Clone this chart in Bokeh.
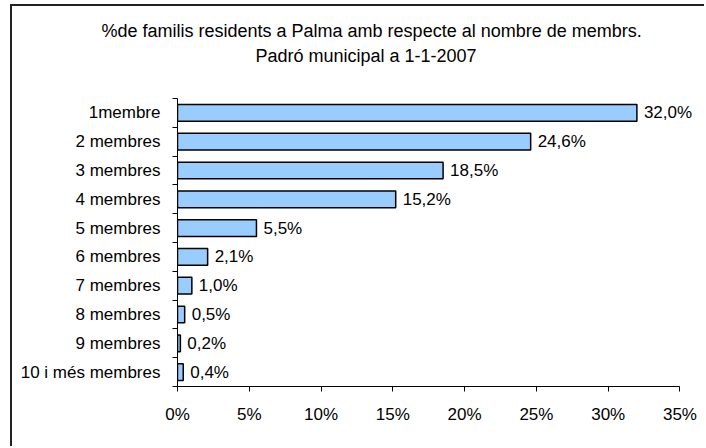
from bokeh.plotting import figure
from bokeh.models import (ColumnDataSource, Range1d, LinearAxis,
                          FixedTicker, LabelSet, Title)
from bokeh.core.properties import value
from bokeh.embed import file_html
from bokeh.resources import INLINE

title_lines = ["%de familis residents a Palma amb respecte al nombre de membrs.",
               "Padró municipal a 1-1-2007"]
categories = ["1membre", "2 membres", "3 membres", "4 membres", "5 membres",
              "6 membres", "7 membres", "8 membres", "9 membres", "10 i més membres"]
values = [32.0, 24.6, 18.5, 15.2, 5.5, 2.1, 1.0, 0.5, 0.2, 0.4]
x_ticks = [0, 5, 10, 15, 20, 25, 30, 35]
x_tick_labels = ["0%", "5%", "10%", "15%", "20%", "25%", "30%", "35%"]

FONT = "Liberation Sans"
FS = "17px"
TFS = "18px"

n = len(categories)
ypos = [n - i - 0.5 for i in range(n)]  # first category at top
value_labels = [f"{v:.1f}".replace(".", ",") + "%" for v in values]
src = ColumnDataSource(dict(y=ypos, val=values, lab=value_labels))

p = figure(width=694, height=442, output_backend="svg", toolbar_location=None,
           y_range=Range1d(0, n), x_range=Range1d(0, 36.5),
           x_axis_location=None, y_axis_location=None,
           min_border_left=165, min_border_right=5, min_border_top=92, min_border_bottom=62,
           margin=(4, 0, 0, 10),
           styles={"border-left": "2px solid #222", "border-top": "2px solid #222"})
p.outline_line_color = None
p.xgrid.visible = False
p.ygrid.visible = False
p.background_fill_color = "white"
p.border_fill_color = "white"

p.hbar(y="y", right="val", height=0.58, left=0, source=src,
       fill_color="#99CCFF", line_color="black", line_width=1.5)

p.add_layout(LabelSet(x="val", y="y", text="lab", source=src, x_offset=7,
                      text_baseline="middle", text_font=value(FONT),
                      text_font_size=value(FS), text_color="black"))

# x axis
xa = LinearAxis(ticker=FixedTicker(ticks=x_ticks), bounds=(0, 35),
                major_label_overrides={t: l for t, l in zip(x_ticks, x_tick_labels)})
xa.major_tick_in = 0
xa.major_tick_out = 5
xa.minor_tick_line_color = None
xa.major_label_standoff = 13
xa.major_label_text_font = FONT
xa.major_label_text_font_size = FS
xa.major_label_text_color = "black"
xa.axis_line_color = "black"
xa.major_tick_line_color = "black"
p.add_layout(xa, "below")

# y tick axis at category boundaries
ya_ticks = LinearAxis(ticker=FixedTicker(ticks=list(range(n + 1))),
                      major_label_overrides={t: "" for t in range(n + 1)})
ya_ticks.major_tick_in = 0
ya_ticks.major_tick_out = 5
ya_ticks.minor_tick_line_color = None
ya_ticks.major_label_text_font_size = "1px"
ya_ticks.major_label_standoff = 0
ya_ticks.axis_line_color = "black"
ya_ticks.major_tick_line_color = "black"
p.add_layout(ya_ticks, "left")

# category labels axis
ya = LinearAxis(ticker=FixedTicker(ticks=ypos),
                major_label_overrides={y: c for y, c in zip(ypos, categories)})
ya.axis_line_color = None
ya.major_tick_line_color = None
ya.minor_tick_line_color = None
ya.major_tick_out = 0
ya.major_tick_in = 0
ya.major_label_standoff = 12
ya.major_label_text_font = FONT
ya.major_label_text_font_size = FS
ya.major_label_text_color = "black"
p.add_layout(ya, "left")

# title: spacer nearest the frame, then the two lines
p.add_layout(Title(text=" ", text_font=FONT, text_font_size=FS, standoff=10), "above")
p.add_layout(Title(text=title_lines[1], align="left", offset=78, standoff=3,
                   text_font=FONT, text_font_size=TFS, text_font_style="normal",
                   text_color="black"), "above")
p.add_layout(Title(text=title_lines[0], align="left", offset=-76, standoff=3,
                   text_font=FONT, text_font_size=TFS, text_font_style="normal",
                   text_color="black"), "above")

open("out.html", "w").write(file_html(p, INLINE))
